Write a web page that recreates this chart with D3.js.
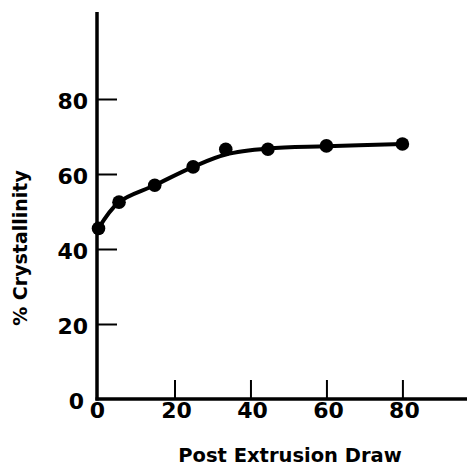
<!DOCTYPE html>
<html><head><meta charset="utf-8">
<script src="https://cdn.jsdelivr.net/npm/d3@7"></script>
<style>body{margin:0;background:#fff}svg{display:block}</style>
</head><body>
<script>
// Data
const drawRatio = [0, 5.4, 14.8, 24.9, 33.5, 44.6, 60, 80];
const crystallinity = [45.5, 52.5, 57.0, 61.9, 66.6, 66.6, 67.5, 68.0];
// smooth trend curve as drawn in the reference (read at the same x positions)
const curveY = [45.5, 52.5, 57.0, 61.9, 65.2, 66.8, 67.4, 68.0];
const xTicks = [0, 20, 40, 60, 80];
const yTicks = [0, 20, 40, 60, 80];
const xTitle = "Post Extrusion Draw";
const yTitle = "% Crystallinity";

const W = 467, H = 465;
const font = "'DejaVu Sans', sans-serif";
const svg = d3.select("body").append("svg").attr("width", W).attr("height", H);

const x = d3.scaleLinear().domain([0, 97]).range([98.5, 467]);
const y = d3.scaleLinear().domain([0, 103.2]).range([399, 12]);

// axes lines
svg.append("line").attr("x1", x(0) - 1.5).attr("x2", x(0) - 1.5).attr("y1", y(103.2)).attr("y2", y(0) + 1.5)
  .attr("stroke", "#000").attr("stroke-width", 3.5);
svg.append("line").attr("x1", x(0) - 3).attr("x2", x(97)).attr("y1", y(0)).attr("y2", y(0))
  .attr("stroke", "#000").attr("stroke-width", 3.5);

// y ticks (inward)
const yAxis = d3.axisRight(y).tickValues(yTicks.filter(d => d > 0)).tickSize(20).tickFormat("");
const gy = svg.append("g").attr("transform", `translate(${x(0) - 1.5},0)`).call(yAxis);
gy.select(".domain").remove();
gy.selectAll(".tick line").attr("stroke", "#000").attr("stroke-width", 2);

// x ticks (inward, upward)
const xAxis = d3.axisTop(x).tickValues(xTicks.filter(d => d > 0)).tickSize(19).tickFormat("");
const gx = svg.append("g").attr("transform", `translate(0,${y(0)})`).call(xAxis);
gx.select(".domain").remove();
gx.selectAll(".tick line").attr("stroke", "#000").attr("stroke-width", 2);

// tick labels
svg.append("g").selectAll("text").data(yTicks).join("text")
  .attr("x", d => d === 0 ? 84 : 88).attr("y", d => y(d) + 4)
  .attr("text-anchor", "end").attr("dominant-baseline", "middle")
  .attr("font-family", font).attr("font-weight", 700).attr("font-size", 22)
  .text(d => d);
svg.append("g").selectAll("text").data(xTicks).join("text")
  .attr("x", d => x(d) + (d === 0 ? -1 : 2)).attr("y", 418)
  .attr("text-anchor", "middle")
  .attr("font-family", font).attr("font-weight", 700).attr("font-size", 22)
  .text(d => d);

// titles
svg.append("text").attr("x", 290).attr("y", 461.5).attr("text-anchor", "middle")
  .attr("font-family", font).attr("font-weight", 700).attr("font-size", 19.5)
  .text(xTitle);
svg.append("text").attr("transform", "translate(27,248) rotate(-90)").attr("text-anchor", "middle")
  .attr("font-family", font).attr("font-weight", 700).attr("font-size", 19)
  .text(yTitle);

// curve
const line = d3.line().x((d, i) => x(drawRatio[i])).y(d => y(d)).curve(d3.curveCatmullRom.alpha(0.5));
svg.append("path").datum(curveY).attr("d", line).attr("fill", "none")
  .attr("stroke", "#000").attr("stroke-width", 4);

// points
svg.append("g").selectAll("circle").data(crystallinity).join("circle")
  .attr("cx", (d, i) => x(drawRatio[i])).attr("cy", d => y(d)).attr("r", 6.8).attr("fill", "#000");
</script>
</body></html>
